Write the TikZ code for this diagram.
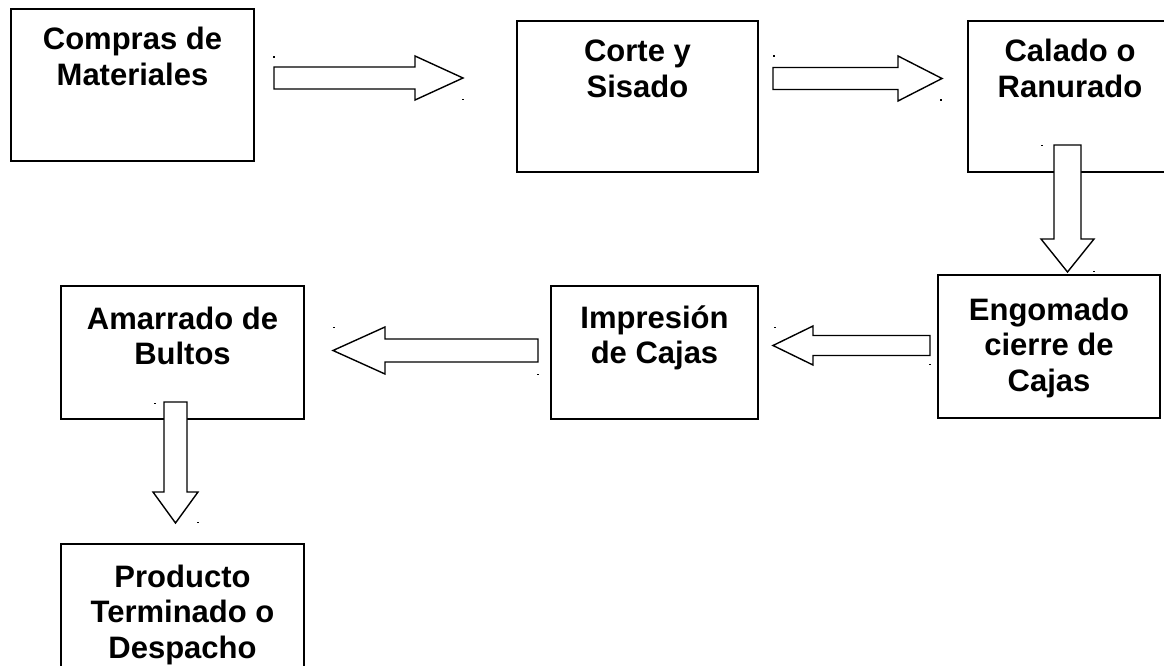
\documentclass[tikz,border=0pt]{standalone}
\usepackage{fontspec}
\setmainfont{Liberation Sans}
\newcommand\bxtxt[4]{\parbox[c][#2pt][t]{#1pt}{\centering\rule{0pt}{#3pt}#4}}
\tikzset{
  box/.style={rectangle, draw=black, line width=1.1pt, fill=white, inner sep=0pt,
    font=\bfseries\fontsize{31}{35.5}\selectfont},
  arrowline/.style={draw=black, line width=1.4pt, fill=white, line join=miter},
  dotmark/.style={fill=black},
  pics/barrow/.style n args={4}{code={
    \path[arrowline] (0,-#2) -- ({#1-#4},-#2) -- ({#1-#4},-#3) -- (#1,0)
      -- ({#1-#4},#3) -- ({#1-#4},#2) -- (0,#2) -- cycle;
  }}
}
\begin{document}
\begin{tikzpicture}[x=1pt,y=-1pt]
\useasboundingbox (0,0) rectangle (1164,666);
\fill[white] (0,0) rectangle (1164,666);
\clip (0,0) rectangle (1164,666);

% boxes
\node[box] (b1) at (132.5,85)  {\bxtxt{243}{152}{41}{Compras de\\Materiales}};
\node[box] (b2) at (637.5,96.5) {\bxtxt{241}{151}{41}{Corte y\\Sisado}};
\node[box] (b3) at (1070,96.5) {\bxtxt{204}{151}{41}{Calado o\\Ranurado}};
\node[box] (b4) at (1049,346.5) {\bxtxt{222}{143}{45}{Engomado\\cierre de\\Cajas}};
\node[box] (b5) at (654.5,352.5) {\bxtxt{207}{133}{42}{Impresión\\de Cajas}};
\node[box] (b6) at (182.5,352.5) {\bxtxt{243}{133}{43}{Amarrado de\\Bultos}};
\node[box] (b7) at (182.5,622) {\bxtxt{243}{156}{43}{Producto\\Terminado o\\Despacho}};

% block arrows (tail points)
\coordinate (a1) at (274,78);
\coordinate (a2) at (773,78.5);
\coordinate (a3) at (1067.5,145);
\coordinate (a4) at (930,345.5);
\coordinate (a5) at (538,350.5);
\coordinate (a6) at (175.5,402);

\pic at (a1) {barrow={189}{11}{22}{48}};
\pic at (a2) {barrow={169}{11}{22.5}{44}};
\pic[rotate=-90] at (a3) {barrow={127}{13.5}{26.5}{33}};
\pic[rotate=180] at (a4) {barrow={157}{10}{19.5}{40}};
\pic[rotate=180] at (a5) {barrow={205}{11.5}{23.5}{52}};
\pic[rotate=-90] at (a6) {barrow={121}{11.5}{22.5}{31}};

% tiny corner marks
\foreach \p in {(273,56.5),(462,99),(773,55.5),(940,99.5),(1041,144.5),(1093,270.5),
                (774,326.5),(929,363.5),(333,326.5),(537,373.5),(154,402.5),(197,521.5)}
  \fill[dotmark] \p rectangle ++(2.4,1.2);
\end{tikzpicture}
\end{document}
